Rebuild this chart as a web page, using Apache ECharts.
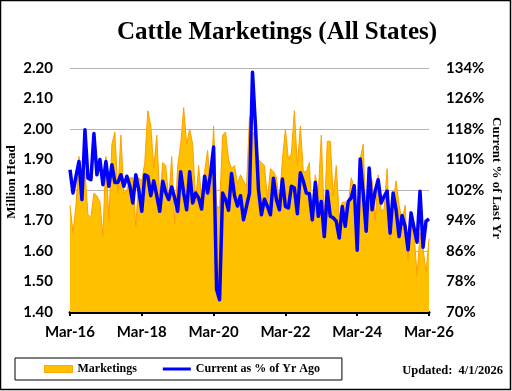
<!DOCTYPE html>
<html><head><meta charset="utf-8">
<script src="https://cdn.jsdelivr.net/npm/echarts@6/dist/echarts.min.js"></script>
<style>html,body{margin:0;padding:0;background:#fff}#c{width:512px;height:391px}</style>
</head><body><div id="c"></div>
<script>
// Monthly categories Mar-16 .. Mar-26
const monthNames = ['Jan','Feb','Mar','Apr','May','Jun','Jul','Aug','Sep','Oct','Nov','Dec'];
const categories = [];
for (let y = 2016, m = 2; y < 2026 || (y === 2026 && m <= 2); ) {
  categories.push(monthNames[m] + '-' + String(y).slice(2));
  m++; if (m > 11) { m = 0; y++; }
}
// Marketings, million head
const marketings = [
1.75,1.66,1.75,1.91,1.84,1.86,1.72,1.71,1.79,1.78,1.76,1.65,
1.91,1.70,1.95,1.99,1.79,1.98,1.79,1.80,1.84,1.84,1.68,1.84,
1.83,1.89,2.06,2.01,1.87,1.98,1.77,1.89,1.88,1.77,1.91,1.69,
1.88,1.95,2.07,1.95,2.00,1.95,1.76,1.88,1.77,1.86,1.93,1.79,
2.01,1.75,1.74,1.98,1.99,1.90,1.87,1.88,1.82,1.85,1.83,1.81,
2.04,1.98,2.00,1.90,1.89,1.88,1.77,1.87,1.86,1.84,1.76,1.90,
2.00,1.90,1.92,2.06,1.88,2.01,1.86,1.86,1.89,1.69,1.85,1.79,
1.98,1.70,1.96,1.96,1.78,1.88,1.71,1.76,1.76,1.75,1.84,1.81,
1.70,1.90,1.95,1.69,1.85,1.83,1.70,1.85,1.73,1.74,1.87,1.64,
1.76,1.83,1.75,1.70,1.75,1.57,1.73,1.66,1.52,1.66,1.61,1.53,
1.64];
// Current as % of year ago
const pctYrAgo = [
107.3,101.2,105.6,109.5,99.5,117.8,105.1,104.7,116.8,106.0,110.0,103.4,
109.5,103.0,108.6,104.0,104.0,106.0,103.0,105.6,103.1,98.6,106.0,102.0,
96.4,106.0,105.6,100.5,104.4,100.5,96.4,104.3,101.3,99.5,102.8,99.9,
96.4,106.8,101.2,96.8,106.8,98.6,101.2,99.9,97.0,105.6,101.2,106.4,
113.3,75.9,73.2,101.2,99.5,96.7,106.3,100.5,97.8,100.5,94.2,97.7,
101.2,132.9,118.7,102.1,95.5,99.6,97.7,95.5,105.1,99.5,96.8,104.9,
97.7,97.3,103.0,102.5,95.8,106.5,104.3,101.2,101.0,94.2,104.0,95.1,
99.0,89.8,101.7,95.1,94.7,93.8,89.4,97.7,92.5,99.0,99.9,103.1,
86.2,110.1,101.2,91.2,107.8,96.8,101.7,104.7,98.6,100.3,101.7,90.7,
101.2,96.8,89.8,95.3,92.5,86.3,96.0,92.0,88.3,101.7,87.0,93.8,
94.4];
const leftTicks = [1.4,1.5,1.6,1.7,1.8,1.9,2.0,2.1,2.2];
const rightTicks = [70,78,86,94,102,110,118,126,134];

const chart = echarts.init(document.getElementById('c'), null, {renderer:'canvas'});
const lab = {fontFamily:'Lato', fontWeight:'bold', fontSize:15, color:'#000'};
const serif = 'Liberation Serif';
chart.setOption({
  animation:false,
  backgroundColor:'#fff',
  title:{text:'Cattle Marketings (All States)', left:272, top:15, textAlign:'center',
    textStyle:{fontFamily:serif, fontWeight:'bold', fontSize:25, color:'#000'}},
  grid:{left:70, right:83, top:68, bottom:79, containLabel:false},
  legend:{left:15, top:358, padding:[5,22,5,29], borderColor:'#000', borderWidth:1,
    itemGap:26, itemWidth:28, itemHeight:7,
    textStyle:{fontFamily:serif, fontWeight:'bold', fontSize:12, color:'#000'},
    data:[{name:'Marketings', icon:'rect', itemStyle:{color:'#FFC000', borderColor:'#FFA500', borderWidth:1}},
          {name:'Current as % of Yr Ago', icon:'path://M0,0L28,0Z M0,2L28,2L28,5L0,5Z M0,7L28,7Z',
           itemStyle:{color:'#0000FF', borderWidth:0}, lineStyle:{width:0, opacity:0}}]},
  xAxis:{type:'category', data:categories, boundaryGap:false,
    axisLine:{lineStyle:{color:'#000', width:3}},
    axisTick:{interval:23, length:4, lineStyle:{color:'#000', width:2}},
    axisLabel:Object.assign({interval:23, margin:13}, lab),
    splitLine:{show:false}},
  yAxis:[
    {type:'value', min:1.4, max:2.2, position:'left',
     axisLine:{show:false}, axisTick:{show:false},
     axisLabel:Object.assign({margin:17, customValues:leftTicks, formatter:v=>v.toFixed(2)}, lab),
     splitLine:{lineStyle:{color:'#b7b3bb', width:1}}},
    {type:'value', min:70, max:134, position:'right',
     axisLine:{show:false}, axisTick:{show:false},
     axisLabel:Object.assign({margin:17, customValues:rightTicks, formatter:v=>Math.round(v)+'%'}, lab),
     splitLine:{show:false}}
  ],
  graphic:[
    {type:'rect', shape:{x:0.5,y:0.5,width:510,height:389}, style:{fill:null, stroke:'#000', lineWidth:1.5}, silent:true},
    {type:'text', x:12, y:182, rotation:Math.PI/2, style:{text:'Million Head', font:'bold 13px "Liberation Serif"', fill:'#000', align:'center', verticalAlign:'middle'}},
    {type:'text', x:496, y:178, rotation:-Math.PI/2, style:{text:'Current % of Last Yr', font:'bold 13px "Liberation Serif"', fill:'#000', align:'center', verticalAlign:'middle'}},
    {type:'text', x:503, y:371, style:{text:'Updated:  4/1/2026', font:'bold 12.5px "Liberation Serif"', fill:'#000', align:'right', verticalAlign:'middle'}}
  ],
  series:[
    {name:'Marketings', type:'line', data:marketings, yAxisIndex:0, symbol:'none',
     lineStyle:{color:'#FF9F00', width:1}, itemStyle:{color:'#FFC000'},
     areaStyle:{color:'#FFC000', opacity:1, origin:'start'}, z:2},
    {name:'Current as % of Yr Ago', type:'line', data:pctYrAgo, yAxisIndex:1, symbol:'none', showSymbol:false,
     lineStyle:{color:'#0000FF', width:3.5, join:'round'}, itemStyle:{color:'#0000FF'}, z:3}
  ]
});
</script></body></html>
